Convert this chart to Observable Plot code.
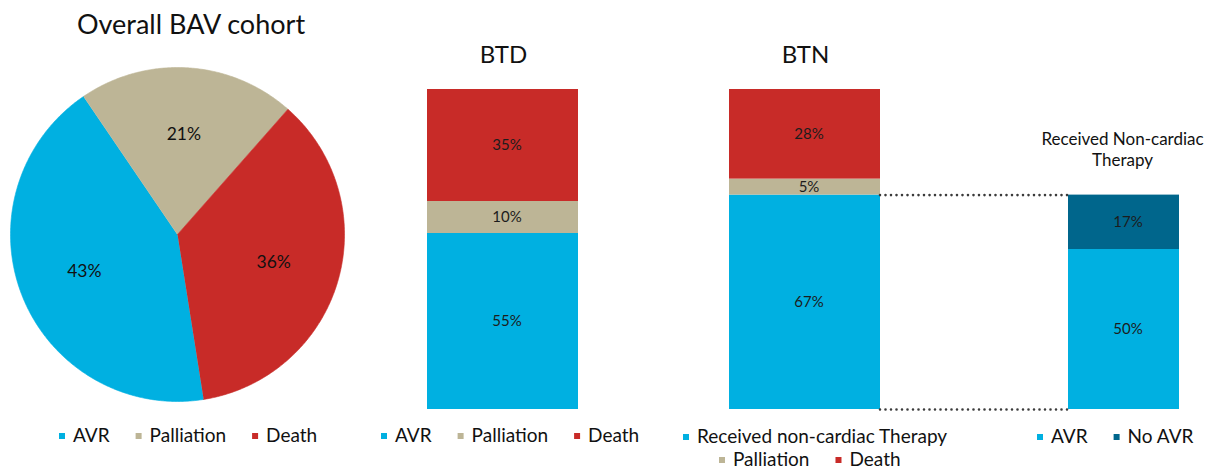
<!DOCTYPE html>
<html><head><meta charset="utf-8">
<script src="https://cdn.jsdelivr.net/npm/d3@7"></script>
<script src="https://cdn.jsdelivr.net/npm/@observablehq/plot@0.6"></script>
<style>
body{margin:0;background:#fff;}
#chart{position:relative;width:1213px;height:472px;overflow:hidden;font-family:Lato,sans-serif;background:#fff;}
</style></head><body><div id="chart"></div>
<script>
// ---- data ----
const categories = ["AVR", "Palliation", "Death"];
const overallValues = [43, 21, 36];
const btdValues = [55, 10, 35];
const btnCategories = ["Received non-cardiac Therapy", "Palliation", "Death"];
const btnValues = [67, 5, 28];
const rntCategories = ["AVR", "No AVR"];
const rntValues = [50, 17];
const pieTitle = "Overall BAV cohort";
const btdTitle = "BTD";
const btnTitle = "BTN";
const rntTitleLines = ["Received Non-cardiac", "Therapy"];

// ---- styles ----
const palette = {
  "AVR": "#00b0e1",
  "Palliation": "#bdb596",
  "Death": "#c82b28",
  "Received non-cardiac Therapy": "#00b0e1",
  "No AVR": "#00668c"
};
const colorScale = {domain: Object.keys(palette), range: Object.values(palette)};
const FONT = "Lato, sans-serif";
const chart = document.getElementById("chart");

function place(el, left, top) {
  el.style.position = "absolute";
  el.style.left = left + "px";
  el.style.top = top + "px";
  chart.appendChild(el);
}

// ---- pie ----
const pieStart = 171 * Math.PI / 180;
const arcs = d3.pie().sort(null).startAngle(pieStart).endAngle(pieStart + 2 * Math.PI)(overallValues);
const piePts = [];
arcs.forEach((a, i) => {
  const key = categories[i];
  piePts.push({key, x: 0, y: 0});
  const n = Math.max(2, Math.ceil((a.endAngle - a.startAngle) / (Math.PI / 360)));
  for (let k = 0; k <= n; k++) {
    const t = a.startAngle + (a.endAngle - a.startAngle) * k / n;
    piePts.push({key, x: Math.sin(t), y: Math.cos(t)});
  }
});
const pieLabels = arcs.map((a, i) => {
  const m = (a.startAngle + a.endAngle) / 2;
  return {x: 0.6 * Math.sin(m), y: 0.6 * Math.cos(m), text: overallValues[i] + "%"};
});
const PIE = 334;
const pie = Plot.plot({
  width: PIE, height: PIE, margin: 0,
  style: {fontFamily: FONT, overflow: "visible", background: "transparent"},
  x: {domain: [-1, 1], axis: null},
  y: {domain: [-1, 1], axis: null},
  color: colorScale,
  marks: [
    Plot.line(piePts, {x: "x", y: "y", z: "key", fill: "key", stroke: "key", strokeWidth: 0.6}),
    Plot.text(pieLabels, {x: "x", y: "y", text: "text", fontSize: 17.5, fill: "#111"})
  ]
});
place(pie, 10, 67);

// ---- stacked bars ----
const BAR_H = 320;
function stackPlot(group, cats, vals, w) {
  const rows = cats.map((c, i) => ({group, cat: c, value: vals[i]}));
  return Plot.plot({
    width: w, height: BAR_H, margin: 0,
    style: {fontFamily: FONT, overflow: "visible", background: "transparent"},
    x: {domain: [group], axis: null, padding: 0},
    y: {domain: [0, 100], axis: null},
    color: colorScale,
    marks: [
      Plot.barY(rows, {x: "group", y: "value", fill: "cat"}),
      Plot.text(rows, Plot.stackY({x: "group", y: "value", text: d => d.value + "%", fill: "#1c1c1c", fontSize: 15, dx: 4}))
    ]
  });
}
const BAR_TOP = 89;
const btdLeft = 427, btnLeft = 729, rntLeft = 1068;
const wideBar = 151, narrowBar = 111;
place(stackPlot("BTD", categories, btdValues, wideBar), btdLeft, BAR_TOP);
place(stackPlot("BTN", btnCategories, btnValues, wideBar), btnLeft, BAR_TOP);
place(stackPlot("RNT", rntCategories, rntValues, narrowBar), rntLeft, BAR_TOP);

// connectors between BTN therapy segment and the breakdown bar
const connector = Plot.plot({
  width: rntLeft - (btnLeft + wideBar), height: BAR_H, margin: 0,
  style: {overflow: "visible", background: "transparent"},
  y: {domain: [0, 100], axis: null},
  marks: [
    Plot.ruleY([btnValues[0], 0], {stroke: "#3b3b3b", strokeWidth: 2.6, strokeDasharray: "0,5.5", strokeLinecap: "round"})
  ]
});
place(connector, btnLeft + wideBar, BAR_TOP);

// ---- overlay: titles and legends ----
const svg = d3.create("svg").attr("width", 1213).attr("height", 472)
  .style("position", "absolute").style("left", "0px").style("top", "0px")
  .style("pointer-events", "none").style("font-family", FONT);
chart.appendChild(svg.node());

function title(txt, x, baseline, size) {
  svg.append("text").attr("x", x).attr("y", baseline).attr("text-anchor", "middle")
    .attr("font-size", size).attr("fill", "#111").text(txt);
}
title(pieTitle, 191, 34, 27);
title(btdTitle, btdLeft + wideBar / 2 + 1, 63, 24);
title(btnTitle, btnLeft + wideBar / 2 + 1, 63, 24);
rntTitleLines.forEach((t, i) => title(t, rntLeft + narrowBar / 2 - 1, 145 + i * 21, 17));

function legend(items, x0, baseline) {
  let x = x0;
  items.forEach(label => {
    svg.append("rect").attr("x", x).attr("y", baseline - 9).attr("width", 6).attr("height", 6).attr("fill", palette[label]);
    const t = svg.append("text").attr("x", x + 14).attr("y", baseline)
      .attr("font-size", 19).attr("fill", "#111").text(label);
    x += 14 + t.node().getComputedTextLength() + 26;
  });
}
legend(categories, 59, 442);
legend(categories, 381, 442);
legend([btnCategories[0]], 683, 443);
legend(btnCategories.slice(1), 719, 466);
legend(rntCategories, 1037, 443);
</script></body></html>
